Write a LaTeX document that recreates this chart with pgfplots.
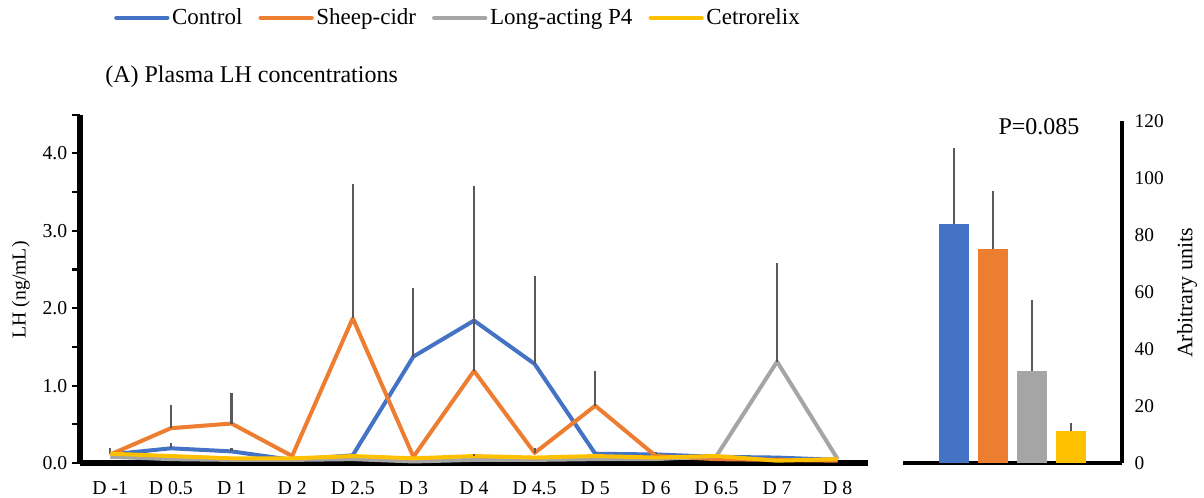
\documentclass[border=0pt]{standalone}
\usepackage{fontspec}
\setmainfont{Liberation Serif}
\usepackage{pgfplots}
\usepackage{pgfplotstable}
\pgfplotsset{compat=1.18}
\definecolor{cBlue}{HTML}{4472C4}
\definecolor{cOrange}{HTML}{ED7D31}
\definecolor{cGray}{HTML}{A5A5A5}
\definecolor{cYellow}{HTML}{FFC000}
\definecolor{errc}{HTML}{595959}

\pgfplotstableread{
x y e
0 0.11 0.09
1 0.19 0.07
2 0.15 0.05
3 0.04 0
4 0.10 0
5 1.375 0.88
6 1.84 1.74
7 1.28 1.14
8 0.12 0
9 0.11 0.03
10 0.08 0
11 0.07 0.01
12 0.04 0
}\control
\pgfplotstableread{
x y e
0 0.11 0
1 0.45 0.30
2 0.51 0.40
3 0.09 0
4 1.87 1.74
5 0.08 0
6 1.19 1.14
7 0.13 0.06
8 0.74 0.45
9 0.09 0
10 0.05 0
11 0.04 0
12 0.03 0
}\sheep
\pgfplotstableread{
x y e
0 0.08 0
1 0.05 0
2 0.04 0
3 0.04 0
4 0.05 0
5 0.02 0
6 0.04 0
7 0.04 0
8 0.05 0
9 0.05 0
10 0.09 0
11 1.31 1.27
12 0.05 0
}\longp
\pgfplotstableread{
x y e
0 0.12 0
1 0.09 0
2 0.06 0
3 0.06 0
4 0.09 0
5 0.06 0
6 0.09 0.03
7 0.07 0
8 0.09 0
9 0.07 0
10 0.09 0
11 0.03 0
12 0.05 0
}\cetro

\begin{document}
\begin{tikzpicture}
\useasboundingbox (0pt,0pt) rectangle (903pt,372.75pt);
\node[anchor=west, font=\fontsize{18}{20}\selectfont, inner sep=0pt] at (78.75pt,315pt) {(A) Plasma LH concentrations};

\begin{axis}[
  at={(60pt,25.5pt)}, anchor=south west, scale only axis,
  width=591pt, height=261.2pt,
  xmin=-0.5, xmax=12.5, ymin=0, ymax=4.5,
  clip=false,
  axis x line*=bottom, axis y line*=left,
  axis line style={line width=4pt, black},
  xtick={0,...,12},
  xticklabels={D -1, D 0.5, D 1, D 2, D 2.5, D 3, D 4, D 4.5, D 5, D 6, D 6.5, D 7, D 8},
  xticklabel style={yshift=-4.5pt},
  major x tick style={draw=none},
  ytick={0,1,2,3,4}, minor ytick={0.5,1.5,2.5,3.5,4.5},
  tick align=outside, major tick length=6pt, minor tick length=6pt,
  y tick style={line width=1.6pt, black},
  /pgf/number format/assume math mode=true,
  yticklabel style={/pgf/number format/fixed,/pgf/number format/fixed zerofill,/pgf/number format/precision=1},
  tick label style={font=\fontsize{14.8}{16}\selectfont},
  every axis y label/.style={at={(axis description cs:-0.075,0.497)}, rotate=90, anchor=center, font=\fontsize{14.8}{16}\selectfont},
  ylabel={LH (ng/mL)},
  legend style={draw=none, fill=none, at={(axis description cs:0.043,1.278)}, anchor=west, font=\fontsize{17.25}{19}\selectfont, inner sep=0pt, /tikz/every even column/.append style={column sep=10pt}},
  legend columns=4,
  legend image code/.code={\draw[#1, line width=3.5pt, line cap=round] (0pt,0pt) -- (38pt,0pt);},
  error bars/y dir=plus, error bars/y explicit, error bars/error mark=none,
  error bars/error bar style={line width=1.6pt, errc},
]
\addplot[cBlue, line width=3pt, line join=round] table[x=x, y=y, y error=e] {\control};
\addplot[cOrange, line width=3pt, line join=round] table[x=x, y=y, y error=e] {\sheep};
\addplot[cGray, line width=3pt, line join=round] table[x=x, y=y, y error=e] {\longp};
\addplot[cYellow, line width=3pt, line join=round] table[x=x, y=y, y error=e] {\cetro};
\legend{Control, Sheep-cidr, Long-acting P4, Cetrorelix}
\end{axis}

\begin{axis}[
  at={(677.25pt,25.5pt)}, anchor=south west, scale only axis,
  width=164.25pt, height=256.7pt,
  xmin=-0.3077, xmax=5.3077, ymin=0, ymax=120,
  clip=false,
  axis x line*=bottom, axis y line*=right,
  axis line style={line width=3.5pt, black},
  xtick=\empty, ytick={0,20,...,120},
  major tick length=0pt,
  /pgf/number format/assume math mode=true,
  tick label style={font=\fontsize{14.5}{16}\selectfont},
  yticklabel style={xshift=6pt},
  every axis y label/.style={at={(axis description cs:1.297,0.497)}, rotate=90, anchor=center, font=\fontsize{16.5}{18}\selectfont},
  ylabel={Arbitrary units},
  error bars/y dir=plus, error bars/y explicit, error bars/error mark=none,
  error bars/error bar style={line width=1.6pt, errc},
]
\addplot[ybar, bar width=22.5pt, bar shift=0pt, fill=cBlue, draw=none] coordinates {(1,83.9) +- (0,26.5)};
\addplot[ybar, bar width=22.5pt, bar shift=0pt, fill=cOrange, draw=none] coordinates {(2,75.1) +- (0,20.4)};
\addplot[ybar, bar width=22.5pt, bar shift=0pt, fill=cGray, draw=none] coordinates {(3,32.4) +- (0,24.6)};
\addplot[ybar, bar width=22.5pt, bar shift=0pt, fill=cYellow, draw=none] coordinates {(4,11.3) +- (0,2.9)};
\node[font=\fontsize{18}{20}\selectfont] at (axis description cs:0.621,0.982) {P=0.085};
\end{axis}
\end{tikzpicture}
\end{document}
